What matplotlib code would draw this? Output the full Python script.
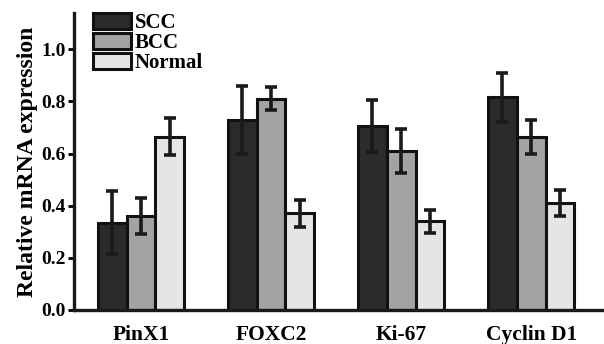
import numpy as np
import matplotlib
matplotlib.use("Agg")
import matplotlib.pyplot as plt
from matplotlib.patches import Patch

genes = ["PinX1", "FOXC2", "Ki-67", "Cyclin D1"]
groups = ["SCC", "BCC", "Normal"]
scc = [0.335, 0.73, 0.705, 0.815]
scc_err = [0.12, 0.13, 0.10, 0.095]
bcc = [0.36, 0.81, 0.61, 0.665]
bcc_err = [0.07, 0.045, 0.085, 0.065]
normal = [0.665, 0.37, 0.34, 0.41]
normal_err = [0.07, 0.05, 0.045, 0.05]
yticks = [0.0, 0.2, 0.4, 0.6, 0.8, 1.0]

colors = ["#2b2b2b", "#a3a3a5", "#e4e5e7"]

plt.rcParams['font.family'] = ['Liberation Serif', 'DejaVu Serif']
plt.rcParams['font.weight'] = 'bold'

fig = plt.figure(figsize=(6.04, 3.44), dpi=100)
ax = fig.add_axes([0.1225, 0.099, 0.8775, 0.864])

x = np.arange(len(genes))
w = 0.222
for i, (vals, errs) in enumerate([(scc, scc_err), (bcc, bcc_err), (normal, normal_err)]):
    ax.bar(x + (i - 1) * w, vals, w, color=colors[i], edgecolor='#111111', linewidth=2.2, zorder=2)
    ax.errorbar(x + (i - 1) * w, vals, yerr=errs, fmt='none', ecolor='#1a1a1a',
                elinewidth=2.6, capsize=4.5, capthick=2.6, zorder=3)

ax.set_xlim(-0.515, 3.56)
ax.set_ylim(0, 1.14)
ax.set_yticks(yticks)
ax.set_yticklabels(["%.1f" % t for t in yticks], fontsize=14, fontweight='bold')
ax.set_xticks(x)
ax.set_xticklabels(genes, fontsize=15.5, fontweight='bold')
ax.tick_params(axis='x', length=0, pad=11)
ax.tick_params(axis='y', length=4, width=2, pad=2)
ax.set_ylabel("Relative mRNA expression", fontsize=17, fontweight='bold', labelpad=2)

for s in ['top', 'right']:
    ax.spines[s].set_visible(False)
for s in ['left', 'bottom']:
    ax.spines[s].set_linewidth(2.4)
    ax.spines[s].set_color('#1a1a1a')

handles = [Patch(facecolor=colors[i], edgecolor='#111111', linewidth=2.2) for i in range(3)]
ax.legend(handles, groups, loc='upper left', bbox_to_anchor=(0.036, 1.0), frameon=False,
          handlelength=1.8, handleheight=0.8, handletextpad=0.2, borderpad=0,
          labelspacing=0.0, borderaxespad=0, prop={'weight': 'bold', 'size': 15})

fig.savefig("out.png", dpi=100)
